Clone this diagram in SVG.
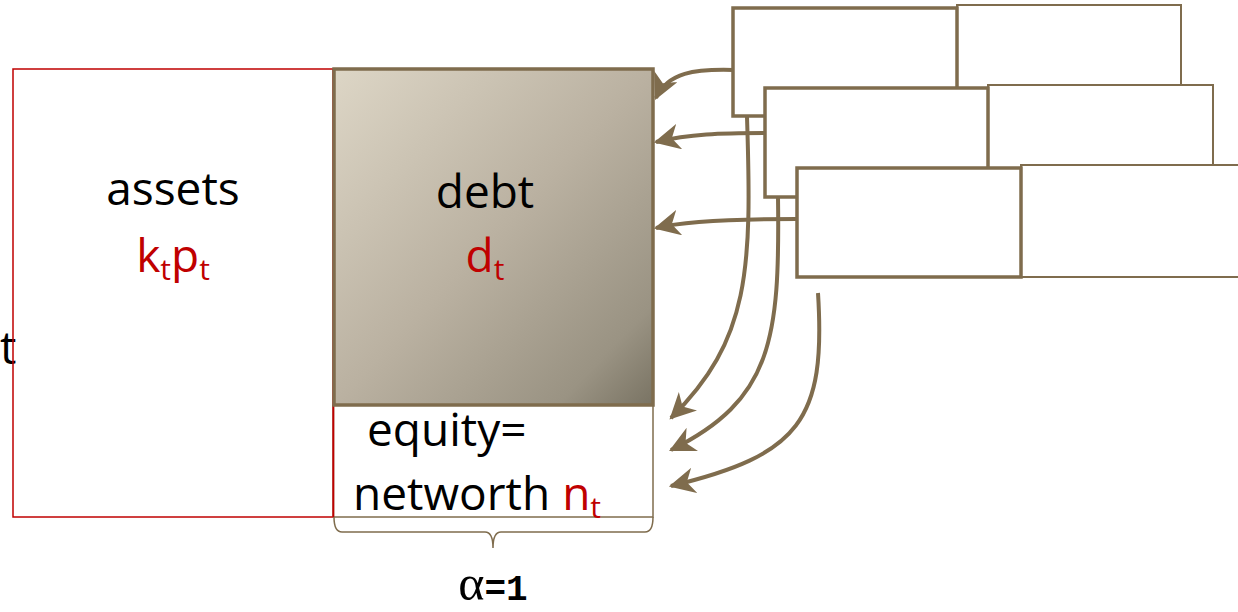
<svg xmlns="http://www.w3.org/2000/svg" width="1238" height="612" viewBox="0 0 1238 612">
<style>
.lbl{font-family:"Open Sans","Noto Sans",sans-serif;font-size:46px;fill:#000}
.red{fill:#c00000}
.sub{font-size:30px}
.boxL{fill:#fff;stroke:#7f6c4d;stroke-width:3.5}
.boxR{fill:#fff;stroke:#7f6c4d;stroke-width:2}
.conn{fill:none;stroke:#7f6c4d;stroke-width:4;marker-end:url(#ah)}
</style>
<defs>
<linearGradient id="g" x1="0" y1="0" x2="1" y2="1">
<stop offset="0" stop-color="#ddd6c6"/>
<stop offset="0.5" stop-color="#bab1a1"/>
<stop offset="0.85" stop-color="#9a9383"/>
<stop offset="1" stop-color="#797363"/>
</linearGradient>
<marker id="ah" viewBox="0 0 12 12" refX="11" refY="6" markerUnits="userSpaceOnUse" markerWidth="26" markerHeight="26" orient="auto">
<path d="M0,0 L12,6 L0,12 L3.5,6 Z" fill="#7f6c4d"/>
</marker>
</defs>
<text class="lbl" x="0" y="364" font-size="42">t</text>
<g id="assets">
<rect x="13" y="69" width="320" height="448" fill="none" stroke="#c00000" stroke-width="1.5"/>
<text class="lbl" x="173" y="205" text-anchor="middle">assets</text>
<text class="lbl red" x="173" y="272" text-anchor="middle">k<tspan class="sub" dy="8">t</tspan><tspan dy="-8">p</tspan><tspan class="sub" dy="8">t</tspan></text>
</g>
<g id="equity">
<rect x="333.5" y="405" width="319.5" height="112" fill="#fff" stroke="#7f6c4d" stroke-width="1.5"/>
<line x1="333.5" y1="405" x2="333.5" y2="517" stroke="#c00000" stroke-width="1.5"/>
<text class="lbl" x="367" y="446">equity=</text>
<text class="lbl" x="353" y="510">networth <tspan class="red">n</tspan><tspan class="red sub" dy="8">t</tspan></text>
</g>
<g id="debt">
<rect x="334" y="69" width="319" height="336" fill="url(#g)" stroke="#7f6c4d" stroke-width="3.5"/>
<text class="lbl" x="485" y="208" text-anchor="middle">debt</text>
<text class="lbl red" x="485" y="272" text-anchor="middle">d<tspan class="sub" dy="8">t</tspan></text>
</g>
<g id="brace">
<path d="M334,517 Q334,532 342,532 L485,532 Q493,532 493,548 Q493,532 501,532 L645,532 Q653,532 653,517" fill="none" stroke="#7f6c4d" stroke-width="1.5"/>
<text x="493" y="600" text-anchor="middle" fill="#000"><tspan font-family="Liberation Serif,serif" font-size="50">α</tspan><tspan font-family="Liberation Mono,monospace" font-weight="bold" font-size="36">=1</tspan></text>
</g>
<g id="bank1">
<rect class="boxR" x="957" y="5" width="224" height="112"/>
<rect class="boxL" x="733" y="8" width="224" height="108"/>
</g>
<g id="bank2">
<rect class="boxR" x="988" y="85" width="225" height="112"/>
<rect class="boxL" x="765" y="88" width="223" height="109"/>
</g>
<g id="bank3">
<rect class="boxR" x="1021" y="165" width="230" height="112"/>
<rect class="boxL" x="797" y="168" width="224" height="109"/>
</g>
<g id="connectors">
<path class="conn" d="M733,70 C695,69 668,72 656,98"/>
<path class="conn" d="M765,133 C720,133 690,134 656,142"/>
<path class="conn" d="M797,219 C750,219 690,220 656,228"/>
<path class="conn" d="M747,117 C752,270 750,340 671,418"/>
<path class="conn" d="M778,197 C780,340 772,400 671,450"/>
<path class="conn" d="M818,293 C826,420 800,455 671,486"/>
</g>
</svg>
